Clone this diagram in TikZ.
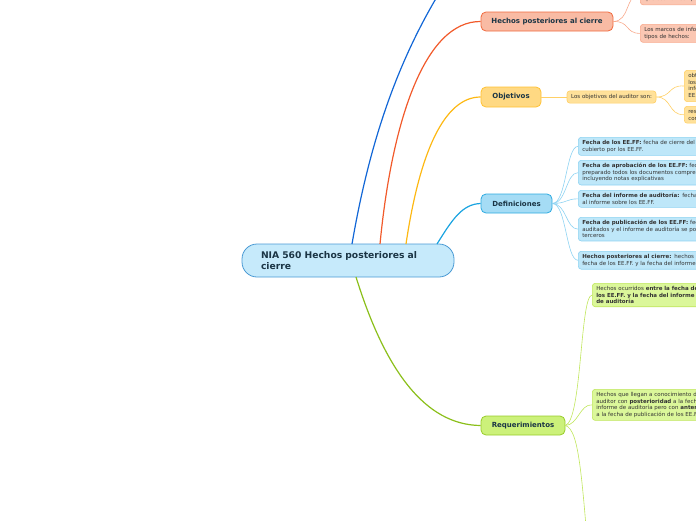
\documentclass[tikz,border=0pt]{standalone}
\usepackage{fontspec}
\setmainfont{DejaVu Sans}
\definecolor{rootfill}{HTML}{C6EAFB}
\definecolor{rootdraw}{HTML}{4A9AD4}
\definecolor{cblue}{HTML}{1166D6}
\definecolor{corange}{HTML}{F15A2B}
\definecolor{ofill}{HTML}{F9BBA4}
\definecolor{odraw}{HTML}{F06A3E}
\definecolor{ocfill}{HTML}{FBC7B3}
\definecolor{ocdraw}{HTML}{F8A98C}
\definecolor{cyellow}{HTML}{FDB813}
\definecolor{yfill}{HTML}{FFD983}
\definecolor{ydraw}{HTML}{FFC233}
\definecolor{ycfill}{HTML}{FFE19A}
\definecolor{ycdraw}{HTML}{FFD066}
\definecolor{clblue}{HTML}{1AA3E0}
\definecolor{bfill}{HTML}{A5DCF5}
\definecolor{bdraw}{HTML}{2DAAE1}
\definecolor{bcfill}{HTML}{BEE7F9}
\definecolor{bcdraw}{HTML}{8ED3F2}
\definecolor{cgreen}{HTML}{8BBF1A}
\definecolor{gfill}{HTML}{CCF17A}
\definecolor{gdraw}{HTML}{98CC2A}
\definecolor{gcfill}{HTML}{DBF79A}
\definecolor{gcdraw}{HTML}{C0E65C}
\definecolor{ttext}{HTML}{1B3545}
\definecolor{ctext}{HTML}{333333}
\tikzset{
  topic/.style={draw, line width=0.8pt, rounded corners=5pt, inner sep=0pt,
    font=\fontsize{7}{8}\selectfont\bfseries, text=ttext, align=center},
  leafbase/.style={draw, line width=0.6pt, rounded corners=3pt,
    font=\fontsize{5.5}{6.6}\selectfont, text=ctext},
  leaf/.style={leafbase, anchor=north west,
    inner xsep=4pt, inner ysep=3pt, text width=200pt, align=left},
  main/.style={line width=1.2pt},
  sub/.style={line width=0.6pt}
}
\begin{document}
\begin{tikzpicture}[x=1pt,y=-1pt]
\useasboundingbox (0,0) rectangle (696,520);
\clip (0,0) rectangle (696,520);
% root
\node[draw=rootdraw, fill=rootfill, line width=0.8pt, rounded corners=15pt,
  minimum width=212pt, minimum height=33pt, inner xsep=19pt, text width=174pt,
  align=left, font=\fontsize{9.2}{11}\selectfont\bfseries, text=ttext] (root) at (348,260.5)
  {NIA 560 Hechos posteriores al\\cierre};
% main topics
\node[topic, fill=ofill, draw=odraw, minimum width=132pt, minimum height=19pt] (hp) at (547,21.5) {Hechos posteriores al cierre};
\node[topic, fill=yfill, draw=ydraw, minimum width=60pt, minimum height=20pt] (obj) at (511,97) {Objetivos};
\node[topic, fill=bfill, draw=bdraw, minimum width=71pt, minimum height=19pt] (def) at (516.5,203.5) {Definiciones};
\node[topic, fill=gfill, draw=gdraw, minimum width=84pt, minimum height=19pt] (req) at (523,425.5) {Requerimientos};
\coordinate (topend) at (475,-60);
% main connectors
\draw[main, cblue] (352,244) .. controls (375,110) and (415,20) .. (topend);
\draw[main, corange] (380,244) .. controls (392,120) and (425,21) .. (hp.west);
\draw[main, cyellow] (406,244) .. controls (420,150) and (445,97) .. (obj.west);
\draw[main, clblue] (437,244) .. controls (452,220) and (462,204) .. (def.west);
\draw[main, cgreen] (356,277) .. controls (385,370) and (425,425) .. (req.west);
% Hechos posteriores children
\node[leaf, fill=ocfill, draw=ocdraw] (hp1) at (640,-20) {Se tratan los hechos posteriores al cierre\\de los EE.FF. y los hechos\\que ocurran con posterioridad};
\node[leaf, fill=ocfill, draw=ocdraw] (hp2) at (640,24) {Los marcos de información financiera identifican dos\\tipos de hechos:};
\draw[sub, ocdraw] (hp.east) .. controls (630,21) and (625,-4) .. (hp1.west);
\draw[sub, ocdraw] (hp.east) .. controls (630,21) and (625,33.5) .. (hp2.west);
% Objetivos children
\node[leafbase, fill=ycfill, draw=ycdraw, minimum width=89pt, inner xsep=3pt, inner ysep=3.5pt] (obj1) at (611.5,97) {Los objetivos del auditor son:};
\node[leaf, fill=ycfill, draw=ycdraw] (obj2) at (684,70) {obtener evidencia de auditoría suficiente\\los hechos ocurridos entre la fecha\\informe de auditoría que requieran\\EE.FF. se reflejan adecuadamente};
\node[leaf, fill=ycfill, draw=ycdraw] (obj3) at (684,106) {responder adecuadamente a los hechos\\conocimiento del auditor};
\draw[sub, ycdraw] (obj.east) -- (obj1.west);
\draw[sub, ycdraw] (obj1.east) .. controls (672,97) and (668,85) .. (obj2.west);
\draw[sub, ycdraw] (obj1.east) .. controls (672,97) and (668,115) .. (obj3.west);
% Definiciones children
\node[leaf, fill=bcfill, draw=bcdraw] (d1) at (578,137) {\textbf{Fecha de los EE.FF:} fecha de cierre del último periodo\\cubierto por los EE.FF.};
\node[leaf, fill=bcfill, draw=bcdraw] (d2) at (578,160) {\textbf{Fecha de aprobación de los EE.FF:} fecha en que se han\\preparado todos los documentos comprendidos en los EE.FF.\\incluyendo notas explicativas};
\node[leaf, fill=bcfill, draw=bcdraw] (d3) at (578,190) {\textbf{Fecha del informe de auditoría:} fecha que el auditor pone\\al informe sobre los EE.FF.};
\node[leaf, fill=bcfill, draw=bcdraw] (d4) at (578,217) {\textbf{Fecha de publicación de los EE.FF:} fecha en que los EE.FF.\\auditados y el informe de auditoría se ponen a disposición de\\terceros};
\node[leaf, fill=bcfill, draw=bcdraw] (d5) at (578,251) {\textbf{Hechos posteriores al cierre:} hechos ocurridos entre la\\fecha de los EE.FF. y la fecha del informe de auditoría};
\foreach \n in {d1,d2,d3,d4,d5}
  \draw[sub, bcdraw] (def.east) .. controls +(14,0) and +(-12,0) .. (\n.west);
% Requerimientos children
\node[leaf, fill=gcfill, draw=gcdraw] (r1) at (592,283) {Hechos ocurridos \textbf{entre la fecha de}\\\textbf{los EE.FF. y la fecha del informe}\\\textbf{de auditoría}};
\node[leaf, fill=gcfill, draw=gcdraw] (r2) at (592,389) {Hechos que llegan a conocimiento del\\auditor con \textbf{posterioridad} a la fecha del\\informe de auditoría pero con \textbf{anterioridad}\\a la fecha de publicación de los EE.FF.};
\coordinate (r3) at (592,600);
\draw[sub, gcdraw] (req.east) .. controls (582,420) and (580,296) .. (r1.west);
\draw[sub, gcdraw] (req.east) .. controls (578,425) and (580,404) .. (r2.west);
\draw[sub, gcdraw] (req.east) .. controls (580,430) and (582,480) .. (r3);
\end{tikzpicture}
\end{document}
